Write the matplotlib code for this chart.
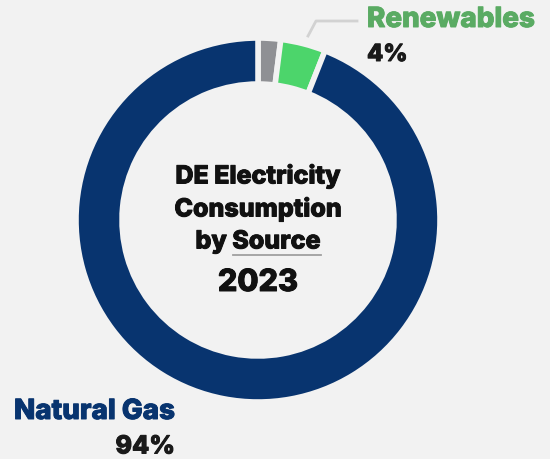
import matplotlib.pyplot as plt
import matplotlib.patheffects as pe

# data
sources = ['Other', 'Renewables', 'Natural Gas']
shares = [2, 4, 94]
colors = ['#8f9094', '#4cd56b', '#08346f']
label_colors = {'Renewables': '#5aab63', 'Natural Gas': '#08346f'}
year = '2023'

bg = '#f2f2f2'
H = 460

fig = plt.figure(figsize=(5.5, 4.6), dpi=100, facecolor=bg)
ax = fig.add_axes([0, 0, 1, 1])
ax.set_facecolor(bg)

ax.pie(shares, colors=colors, startangle=90, counterclock=False,
       center=(258, H - 221), radius=182, frame=True,
       wedgeprops=dict(width=46, edgecolor=bg, linewidth=4))
ax.set_xlim(0, 550)
ax.set_ylim(0, H)
ax.set_aspect('equal')
ax.axis('off')

font = 'Inter'
wt = 'heavy'


def label(x, y, s, size, color, ha='center'):
    # thin stroke in the same colour to make the glyphs a bit heavier
    ax.text(x, H - y, s, ha=ha, va='center', fontsize=size, fontweight=wt,
            family=font, color=color,
            path_effects=[pe.withStroke(linewidth=0.7, foreground=color)])


# center title
for txt, y in [('DE Electricity', 177), ('Consumption', 210), ('by Source', 243)]:
    label(258, y, txt, 18, '#111111')
ax.plot([233, 321], [H - 256, H - 256], color='#a0a0a0', lw=1.3)
label(258, 284, year, 22, '#111111')

# renewables label
ax.plot([308, 316, 357], [H - 37, H - 22, H - 22], color='#d2d2d2', lw=2)
label(367, 21, 'Renewables', 20, label_colors['Renewables'], ha='left')
label(367, 56, f'{shares[1]}%', 17, '#1a1a1a', ha='left')

# natural gas label
label(14, 413, 'Natural Gas', 20, label_colors['Natural Gas'], ha='left')
label(175, 448, f'{shares[2]}%', 18, '#1a1a1a', ha='right')

fig.savefig('out.png', dpi=100, facecolor=bg)
